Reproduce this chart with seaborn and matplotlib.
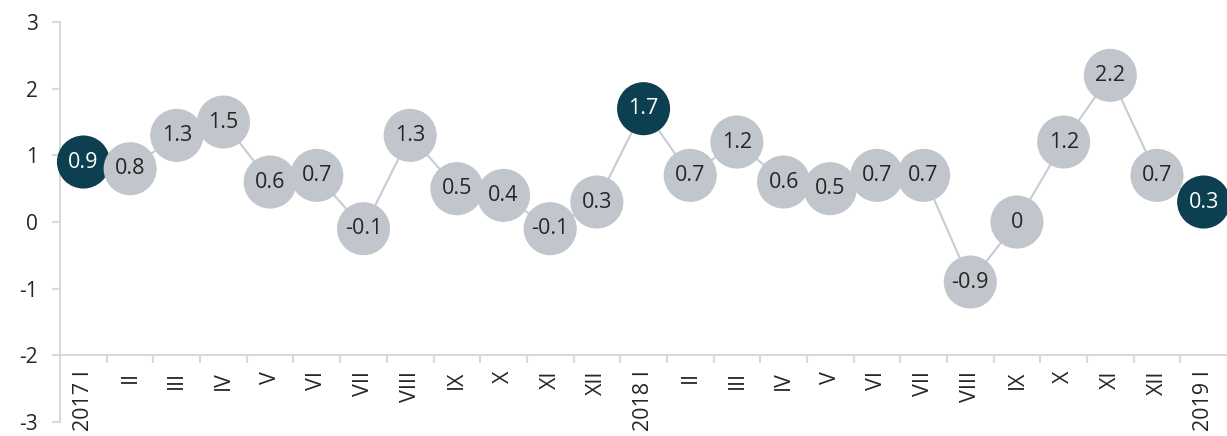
import numpy as np
import pandas as pd
import matplotlib
matplotlib.use("Agg")
import matplotlib.pyplot as plt
import seaborn as sns
from matplotlib.ticker import FixedLocator

labels = ["2017 I", "II", "III", "IV", "V", "VI", "VII", "VIII", "IX", "X", "XI", "XII",
          "2018 I", "II", "III", "IV", "V", "VI", "VII", "VIII", "IX", "X", "XI", "XII",
          "2019 I"]
values = [0.9, 0.8, 1.3, 1.5, 0.6, 0.7, -0.1, 1.3, 0.5, 0.4, -0.1, 0.3,
          1.7, 0.7, 1.2, 0.6, 0.5, 0.7, 0.7, -0.9, 0, 1.2, 2.2, 0.7, 0.3]
highlight = [True] + [False] * 11 + [True] + [False] * 11 + [True]

dark = "#0c3f4f"
light = "#c1c5cc"
axis_col = "#d9d9d9"
text_col = "#262626"

sns.set_style("white")
plt.rcParams["font.family"] = ["Open Sans", "DejaVu Sans"]

df = pd.DataFrame({"pos": np.arange(len(values)), "value": values, "hl": highlight})

fig = plt.figure(figsize=(12.27, 4.36), dpi=100)
ax = fig.add_axes([0.049, 0.032, 0.951, 0.9175])

sns.lineplot(data=df, x="pos", y="value", color="#c8ccd2", linewidth=1.5, ax=ax, zorder=3)
sns.scatterplot(data=df, x="pos", y="value", hue="hl", palette={True: dark, False: light},
                s=1460, edgecolor="none", legend=False, ax=ax, zorder=4, clip_on=False)

for i, v in enumerate(values):
    ax.text(i, v, f"{v:g}", ha="center", va="center", fontsize=15.5,
            color="white" if highlight[i] else text_col, zorder=5, clip_on=False)

ax.set_xlim(-0.5, len(values) - 0.5)
ax.set_ylim(-3, 3)
ax.set_yticks(range(-3, 4))
ax.set_yticklabels([str(t) for t in range(-3, 4)])
ax.set_xticks(df["pos"])
ax.set_xticklabels(labels)
ax.xaxis.set_minor_locator(FixedLocator(np.arange(0.5, len(values) - 0.5, 1)))

ax.set_xlabel("")
ax.set_ylabel("")
ax.spines["top"].set_visible(False)
ax.spines["right"].set_visible(False)
ax.spines["bottom"].set_position(("data", -2))
for sp in ["left", "bottom"]:
    ax.spines[sp].set_color(axis_col)
    ax.spines[sp].set_linewidth(1.5)
    ax.spines[sp].set_zorder(1)

ax.tick_params(axis="y", length=6, width=1.5, color=axis_col, pad=10, labelsize=15,
               labelcolor=text_col, direction="out", left=True)
ax.tick_params(axis="x", which="major", length=0, pad=11, labelsize=15.5, labelcolor=text_col,
               labelrotation=90)
ax.tick_params(axis="x", which="minor", length=6, width=1.5, color=axis_col, direction="out",
               bottom=True)
for t in ax.get_xticklabels():
    t.set_verticalalignment("top")

fig.savefig("out.png", dpi=100)
